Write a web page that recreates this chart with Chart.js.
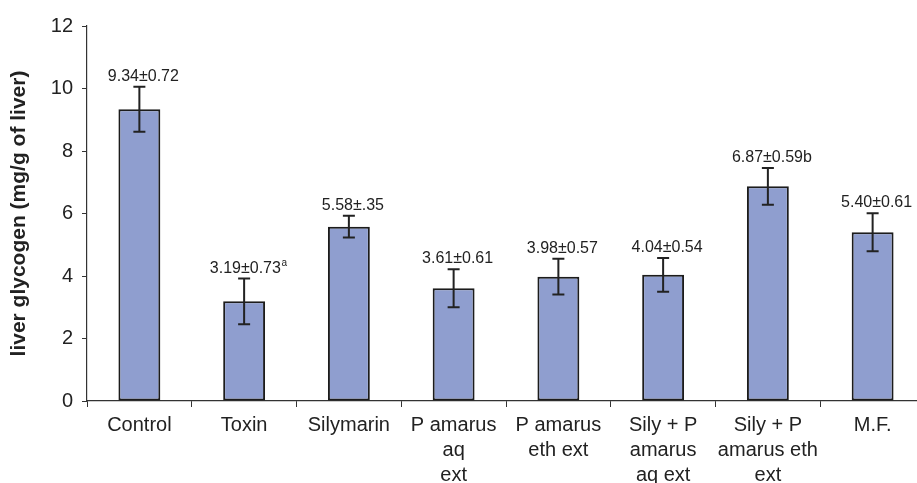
<!DOCTYPE html>
<html>
<head>
<meta charset="utf-8">
<script src="https://cdn.jsdelivr.net/npm/chart.js@4"></script>
<style>
  html, body { margin: 0; padding: 0; background: #fff; overflow: hidden; }
  .chart-container { position: relative; width: 926px; height: 483px; }
</style>
</head>
<body>
<div class="chart-container">
  <canvas id="barChart" width="926" height="483"></canvas>
</div>
<script>
// Groups on the x axis (multi-line labels)
const groups = [
    'Control',
    'Toxin',
    'Silymarin',
    ['P amarus', 'aq', 'ext'],
    ['P amarus', 'eth ext'],
    ['Sily + P', 'amarus', 'aq ext'],
    ['Sily + P', 'amarus eth', 'ext'],
    'M.F.'
];

// Mean liver glycogen and SD
const glycogen = [9.34, 3.19, 5.58, 3.61, 3.98, 4.04, 6.87, 5.40];
const sd = [0.72, 0.73, 0.35, 0.61, 0.57, 0.54, 0.59, 0.61];

// Text printed above each bar, plus superscripts
const valueLabels = ['9.34±0.72', '3.19±0.73', '5.58±.35', '3.61±0.61',
                     '3.98±0.57', '4.04±0.54', '6.87±0.59b', '5.40±0.61'];
const superscripts = ['', 'a', '', '', '', '', '', ''];

const yTicks = [0, 2, 4, 6, 8, 10, 12];

const FONT = '"Liberation Sans", Arial, sans-serif';
const INK = '#222222';

// Draws error bars and the value labels above them
const errorBarPlugin = {
    id: 'errorBars',
    afterDatasetsDraw(chart) {
        const ctx = chart.ctx;
        const meta = chart.getDatasetMeta(0);
        const y = chart.scales.y;
        ctx.save();
        meta.data.forEach((bar, i) => {
            const x = bar.x;
            const top = y.getPixelForValue(glycogen[i] + sd[i]);
            const bottom = y.getPixelForValue(glycogen[i] - sd[i]);
            const cap = 6;
            ctx.strokeStyle = INK;
            ctx.lineWidth = 2;
            ctx.beginPath();
            ctx.moveTo(x, top); ctx.lineTo(x, bottom);
            ctx.moveTo(x - cap, top); ctx.lineTo(x + cap, top);
            ctx.moveTo(x - cap, bottom); ctx.lineTo(x + cap, bottom);
            ctx.stroke();

            // label
            ctx.fillStyle = INK;
            ctx.textBaseline = 'alphabetic';
            const main = valueLabels[i];
            const sup = superscripts[i];
            ctx.font = '16px ' + FONT;
            const wMain = ctx.measureText(main).width;
            ctx.font = '10px ' + FONT;
            const wSup = sup ? ctx.measureText(sup).width : 0;
            const startX = x + 4 - (wMain + wSup) / 2;
            const base = top - 6;
            ctx.textAlign = 'left';
            ctx.font = '16px ' + FONT;
            ctx.fillText(main, startX, base);
            if (sup) {
                ctx.font = '10px ' + FONT;
                ctx.fillText(sup, startX + wMain + 0.5, base - 7);
            }
        });
        ctx.restore();
    }
};

document.addEventListener('DOMContentLoaded', function() {
    const ctx = document.getElementById('barChart').getContext('2d');

    new Chart(ctx, {
        type: 'bar',
        data: {
            labels: groups,
            datasets: [{
                data: glycogen,
                backgroundColor: '#8f9ecf',
                borderColor: '#1c1c1c',
                borderWidth: 2,
                borderSkipped: false,
                barPercentage: 0.4,
                categoryPercentage: 1.0
            }]
        },
        options: {
            responsive: false,
            animation: false,
            layout: {
                padding: { top: 26, right: 1, bottom: 0, left: 0 }
            },
            plugins: {
                legend: { display: false },
                tooltip: { enabled: false }
            },
            scales: {
                x: {
                    grid: {
                        display: true,
                        offset: true,
                        drawOnChartArea: false,
                        drawTicks: true,
                        tickLength: 6,
                        color: '#333'
                    },
                    border: { color: '#333', width: 1.2 },
                    ticks: {
                        color: INK,
                        padding: 6,
                        maxRotation: 0,
                        autoSkip: false,
                        font: { family: FONT, size: 20, lineHeight: 1.25 }
                    },
                    afterFit(scale) { scale.height = 82; }
                },
                y: {
                    min: 0,
                    max: 12,
                    afterBuildTicks(scale) {
                        scale.ticks = yTicks.map(v => ({ value: v }));
                    },
                    grid: {
                        display: true,
                        drawOnChartArea: false,
                        drawTicks: true,
                        tickLength: 5,
                        color: '#333'
                    },
                    border: { color: '#333', width: 1.2 },
                    ticks: {
                        color: INK,
                        padding: 9,
                        font: { family: FONT, size: 20 }
                    },
                    title: {
                        display: true,
                        text: 'liver glycogen (mg/g of liver)',
                        color: INK,
                        padding: { top: 7, bottom: 0 },
                        font: { family: FONT, size: 21, weight: 'bold', lineHeight: 1.2 }
                    },
                    afterFit(scale) { scale.width = 87; }
                }
            }
        },
        plugins: [errorBarPlugin]
    });
});
</script>
</body>
</html>
